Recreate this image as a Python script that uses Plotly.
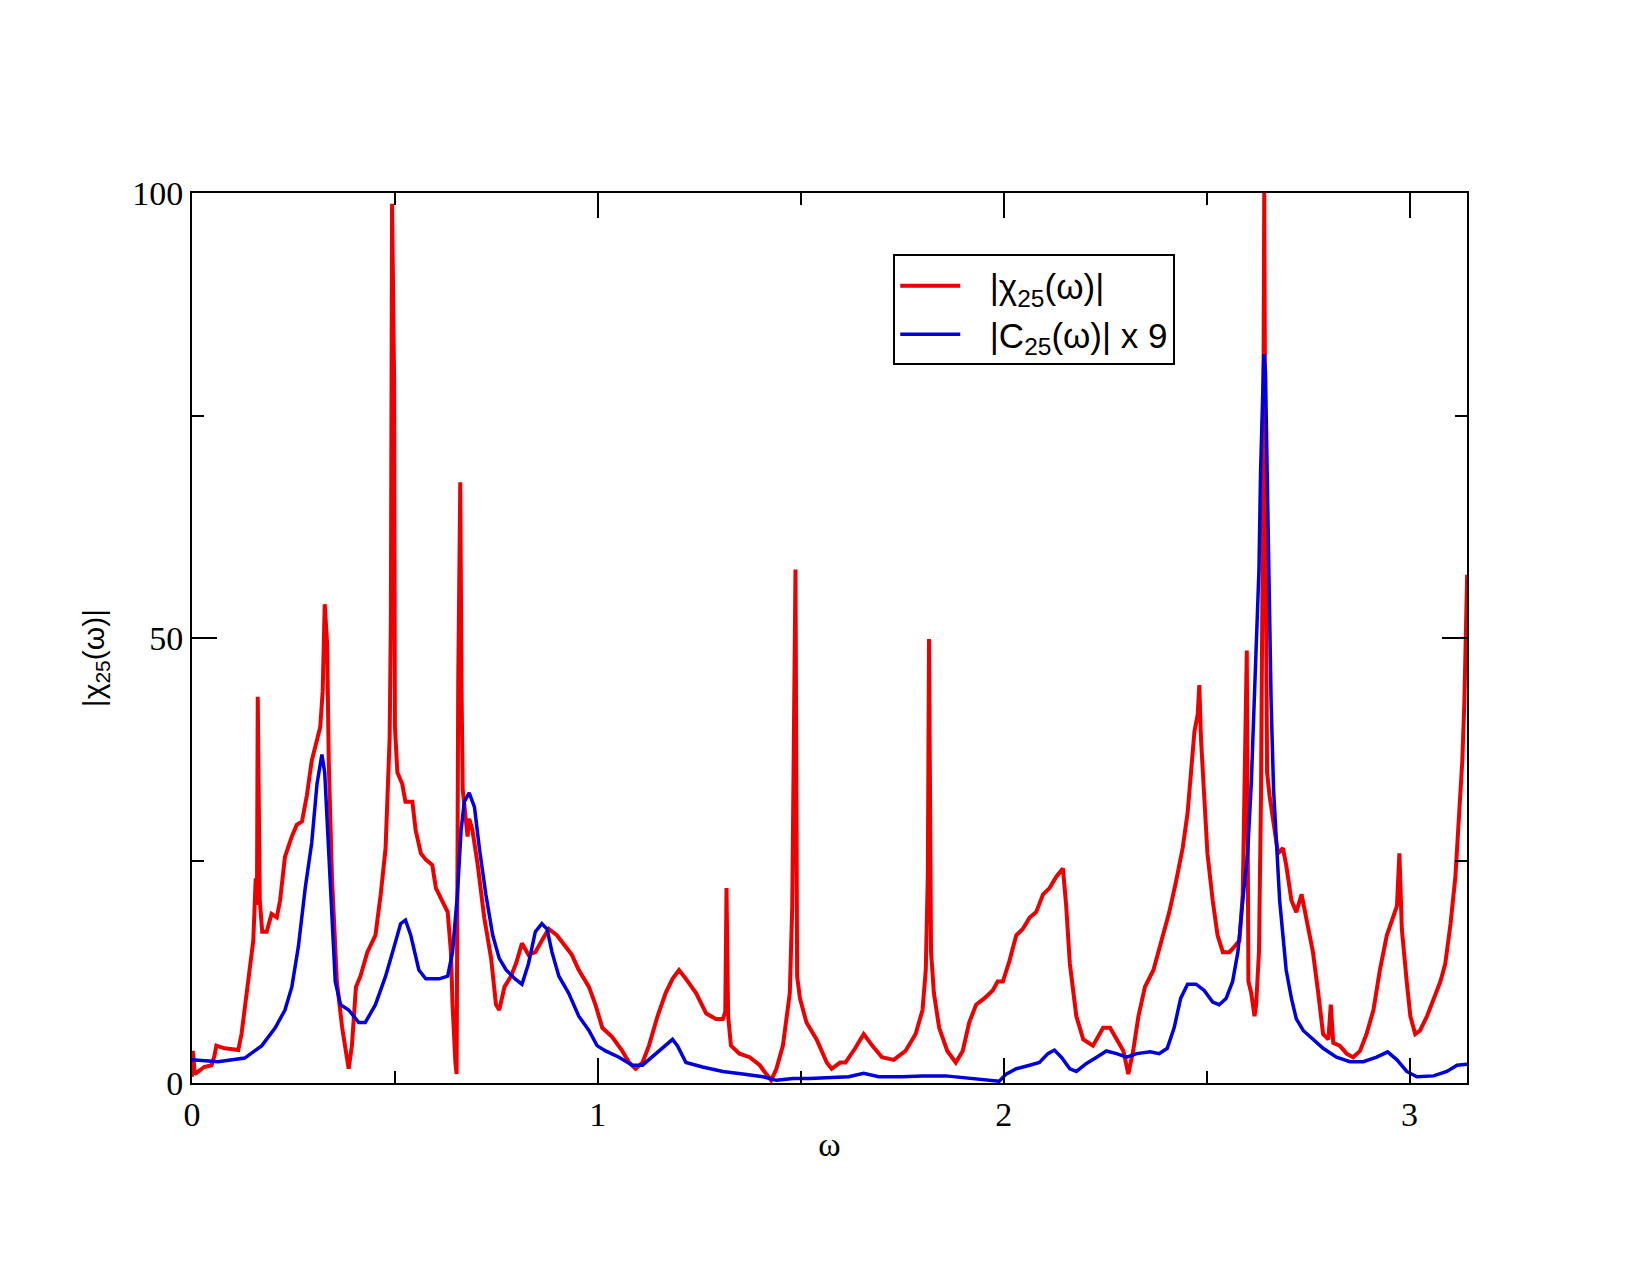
import plotly.graph_objects as go

# |chi_25(omega)| (red)
chi_w = [0.000, 0.002, 0.007, 0.030, 0.048, 0.055, 0.060, 0.080, 0.100, 0.114, 0.122, 0.139, 0.151, 0.157,
         0.160, 0.162, 0.165, 0.167, 0.173, 0.184, 0.196, 0.209, 0.217, 0.229, 0.246, 0.258, 0.271, 0.283,
         0.295, 0.308, 0.316, 0.322, 0.327, 0.333, 0.337, 0.345, 0.357, 0.370, 0.386, 0.394, 0.404, 0.415,
         0.432, 0.452, 0.465, 0.477, 0.481, 0.487, 0.490, 0.493, 0.498, 0.500, 0.506, 0.518, 0.526, 0.543,
         0.551, 0.564, 0.576, 0.592, 0.601, 0.617, 0.630, 0.638, 0.642, 0.649, 0.652, 0.656, 0.661, 0.664,
         0.667, 0.679, 0.683, 0.691, 0.704, 0.720, 0.737, 0.749, 0.757, 0.770, 0.786, 0.799, 0.813, 0.829,
         0.846, 0.862, 0.879, 0.899, 0.920, 0.936, 0.953, 0.978, 0.994, 1.011, 1.035, 1.060, 1.077, 1.093,
         1.110, 1.126, 1.147, 1.167, 1.184, 1.200, 1.217, 1.242, 1.267, 1.291, 1.308, 1.314, 1.317, 1.321,
         1.328, 1.349, 1.374, 1.399, 1.415, 1.427, 1.440, 1.456, 1.473, 1.479, 1.483, 1.487, 1.491, 1.498,
         1.514, 1.539, 1.564, 1.576, 1.597, 1.610, 1.634, 1.655, 1.676, 1.700, 1.729, 1.758, 1.783, 1.800,
         1.808, 1.813, 1.816, 1.821, 1.828, 1.841, 1.861, 1.882, 1.899, 1.915, 1.932, 1.952, 1.973, 1.985,
         1.998, 2.014, 2.031, 2.047, 2.064, 2.080, 2.097, 2.113, 2.130, 2.146, 2.154, 2.163, 2.179, 2.196,
         2.220, 2.245, 2.262, 2.278, 2.295, 2.307, 2.319, 2.332, 2.348, 2.369, 2.385, 2.408, 2.424, 2.441,
         2.453, 2.461, 2.470, 2.478, 2.482, 2.486, 2.494, 2.502, 2.515, 2.527, 2.540, 2.556, 2.568, 2.581,
         2.589, 2.593, 2.599, 2.603, 2.610, 2.618, 2.622, 2.629, 2.634, 2.639, 2.642, 2.645, 2.649, 2.655,
         2.663, 2.676, 2.688, 2.696, 2.709, 2.721, 2.734, 2.746, 2.762, 2.775, 2.787, 2.800, 2.806, 2.812,
         2.828, 2.845, 2.861, 2.878, 2.894, 2.911, 2.927, 2.944, 2.960, 2.969, 2.975, 2.981, 2.993, 3.002,
         3.014, 3.026, 3.043, 3.059, 3.076, 3.088, 3.101, 3.113, 3.121, 3.130, 3.135, 3.139, 3.142]
chi_v = [0.7, 3.6, 1.0, 1.8, 2.0, 3.0, 4.2, 3.9, 3.8, 3.7, 5.5, 12.0, 16.0, 23.0,
         20.0, 43.4, 22.0, 20.5, 17.0, 17.0, 19.0, 18.6, 20.5, 25.4, 27.7, 29.0, 29.4, 32.3,
         36.2, 38.8, 40.0, 44.0, 53.8, 49.3, 36.0, 23.0, 11.4, 6.2, 1.6, 4.2, 10.8, 12.0,
         14.7, 16.6, 21.2, 26.4, 32.3, 38.8, 51.9, 98.8, 79.0, 40.0, 34.9, 33.6, 31.6, 31.6,
         28.4, 25.8, 25.1, 24.5, 21.9, 20.5, 19.2, 14.7, 8.8, 2.3, 1.0, 45.0, 67.5, 45.0,
         33.0, 27.7, 29.7, 28.4, 24.5, 18.6, 14.0, 8.8, 8.2, 10.8, 12.0, 13.5, 15.7, 14.4,
         14.7, 16.0, 17.3, 16.6, 15.3, 14.4, 12.7, 10.8, 8.8, 6.2, 5.2, 3.6, 2.3, 1.6,
         2.3, 4.2, 7.5, 10.1, 11.7, 12.7, 11.7, 10.1, 7.8, 7.2, 7.2, 8.0, 21.9, 7.5,
         4.2, 3.3, 2.9, 2.0, 1.0, 0.3, 1.6, 4.2, 10.1, 19.9, 38.8, 57.7, 12.0, 9.5,
         6.8, 4.9, 2.3, 1.6, 2.3, 2.3, 3.9, 5.5, 4.2, 2.9, 2.6, 3.6, 5.5, 8.2,
         12.7, 23.2, 49.9, 14.7, 10.1, 6.2, 3.6, 2.3, 3.6, 6.8, 8.8, 9.5, 10.4, 11.4,
         11.4, 13.7, 16.6, 17.3, 18.6, 19.2, 21.2, 21.9, 23.2, 24.1, 19.9, 13.4, 7.5, 4.9,
         4.2, 6.2, 6.2, 4.9, 3.6, 1.0, 3.6, 7.5, 10.8, 12.7, 15.3, 19.2, 22.5, 26.4,
         30.3, 34.2, 39.5, 41.4, 44.7, 38.8, 32.3, 25.8, 20.5, 16.6, 14.7, 14.7, 15.3, 16.0,
         21.2, 31.0, 48.6, 11.4, 10.1, 7.5, 8.8, 14.7, 32.3, 65.6, 100.0, 65.0, 34.9, 32.3,
         29.7, 25.8, 26.4, 24.5, 20.5, 19.2, 21.2, 18.6, 14.7, 10.1, 5.5, 4.9, 8.8, 4.5,
         4.2, 3.3, 2.9, 3.6, 5.5, 8.2, 12.7, 16.6, 18.6, 19.9, 25.8, 17.3, 11.4, 7.5,
         5.5, 5.9, 7.5, 9.5, 11.4, 13.4, 17.9, 23.2, 29.7, 36.2, 42.7, 50.6, 57.1]

# |C_25(omega)| x 9 (blue)
c_w = [0.000, 0.064, 0.130, 0.172, 0.205, 0.229, 0.246, 0.262, 0.279, 0.295, 0.308, 0.316, 0.320, 0.327,
       0.337, 0.345, 0.353, 0.366, 0.386, 0.411, 0.427, 0.452, 0.477, 0.498, 0.514, 0.526, 0.539, 0.559,
       0.576, 0.609, 0.630, 0.642, 0.654, 0.663, 0.671, 0.683, 0.696, 0.708, 0.724, 0.741, 0.757, 0.774,
       0.796, 0.813, 0.829, 0.846, 0.862, 0.875, 0.887, 0.904, 0.928, 0.953, 0.978, 0.998, 1.019, 1.052,
       1.085, 1.110, 1.143, 1.167, 1.184, 1.196, 1.217, 1.258, 1.308, 1.357, 1.407, 1.440, 1.481, 1.522,
       1.597, 1.618, 1.655, 1.692, 1.750, 1.800, 1.857, 1.915, 1.956, 1.989, 2.006, 2.031, 2.064, 2.088,
       2.109, 2.125, 2.142, 2.163, 2.179, 2.204, 2.229, 2.253, 2.278, 2.303, 2.328, 2.361, 2.383, 2.403,
       2.420, 2.436, 2.453, 2.474, 2.494, 2.515, 2.531, 2.548, 2.564, 2.577, 2.589, 2.601, 2.610, 2.618,
       2.624, 2.629, 2.633, 2.637, 2.641, 2.645, 2.649, 2.653, 2.659, 2.665, 2.672, 2.680, 2.688, 2.696,
       2.709, 2.721, 2.738, 2.762, 2.787, 2.820, 2.853, 2.886, 2.919, 2.946, 2.969, 2.993, 3.018, 3.059,
       3.092, 3.117, 3.142]
c_v = [2.6, 2.4, 2.8, 4.2, 6.2, 8.2, 10.8, 15.3, 21.9, 27.0, 33.6, 36.2, 36.9, 34.9,
       26.4, 17.9, 11.4, 8.8, 8.2, 6.8, 6.8, 8.8, 12.0, 15.3, 17.9, 18.3, 16.6, 12.7,
       11.7, 11.7, 12.0, 14.7, 21.2, 28.4, 31.6, 32.6, 31.0, 26.4, 21.2, 16.6, 14.0, 12.7,
       11.7, 11.1, 13.4, 17.0, 17.9, 17.3, 14.7, 12.0, 10.1, 7.5, 5.9, 4.2, 3.6, 2.9,
       2.0, 2.0, 3.3, 4.2, 4.9, 4.2, 2.3, 1.8, 1.3, 1.0, 0.7, 0.3, 0.5, 0.5,
       0.6, 0.7, 1.1, 0.7, 0.7, 0.8, 0.8, 0.5, 0.3, 0.2, 1.0, 1.6, 2.0, 2.3,
       3.3, 3.7, 2.9, 1.6, 1.3, 2.2, 2.9, 3.6, 3.3, 2.9, 3.3, 3.5, 3.3, 3.9,
       6.2, 9.5, 11.1, 11.1, 10.4, 9.1, 8.8, 9.5, 11.4, 14.7, 20.5, 25.8, 33.6, 42.7,
       50.6, 57.7, 68.8, 76.6, 81.9, 79.9, 70.1, 55.8, 42.7, 32.9, 26.4, 20.5, 16.6, 12.7,
       9.5, 7.2, 5.9, 4.9, 3.9, 2.9, 2.4, 2.4, 2.9, 3.5, 2.6, 1.3, 0.7, 0.8,
       1.3, 2.0, 2.1]

x_ticks = [0, 1, 2, 3]
y_ticks = [0, 50, 100]
series_names = ["\u2002\u2009|χ<sub>25</sub>(ω)|", "\u2002\u2009|C<sub>25</sub>(ω)| x 9"]

fig = go.Figure()
fig.add_trace(go.Scatter(x=chi_w, y=chi_v, mode="lines", name=series_names[0],
                         line=dict(color="#ee0000", width=4)))
fig.add_trace(go.Scatter(x=c_w, y=c_v, mode="lines", name=series_names[1],
                         line=dict(color="#0000dd", width=3.5)))

axis_common = dict(showline=True, linecolor="black", linewidth=2, mirror="allticks",
                   ticks="inside", tickcolor="black", tickwidth=2, ticklen=25,
                   showgrid=False, zeroline=False,
                   tickfont=dict(family="Liberation Serif", size=34, color="black"))

fig.update_xaxes(range=[0, 3.14159], tickvals=x_ticks, ticktext=[str(v) for v in x_ticks],
                 minor=dict(ticks="inside", ticklen=12, tickwidth=2, tickcolor="black", dtick=0.5, tick0=0, showgrid=False),
                 title=dict(text="ω", font=dict(family="Liberation Serif", size=34, color="black"), standoff=0),
                 **axis_common)
fig.update_yaxes(range=[0, 100], tickvals=y_ticks, ticktext=[str(v) for v in y_ticks],
                 minor=dict(ticks="inside", ticklen=12, tickwidth=2, tickcolor="black", dtick=25, tick0=0, showgrid=False),
                 **axis_common)

fig.add_annotation(text="|χ<sub>25</sub>(ω)|", xref="paper", yref="paper",
                   x=-0.076, y=0.4775, xanchor="center", yanchor="middle",
                   textangle=-90, showarrow=False,
                   font=dict(family="Liberation Sans", size=30, color="black"))

fig.update_layout(
    width=1650, height=1275,
    margin=dict(l=192, r=183, t=193, b=192),
    paper_bgcolor="white", plot_bgcolor="white",
    showlegend=True,
    legend=dict(x=0.55, y=0.931, xanchor="left", yanchor="top",
                bgcolor="white", bordercolor="black", borderwidth=2,
                font=dict(family="Liberation Sans", size=35, color="black"),
                itemwidth=60, tracegroupgap=0),
)

fig.write_html("out.html")
